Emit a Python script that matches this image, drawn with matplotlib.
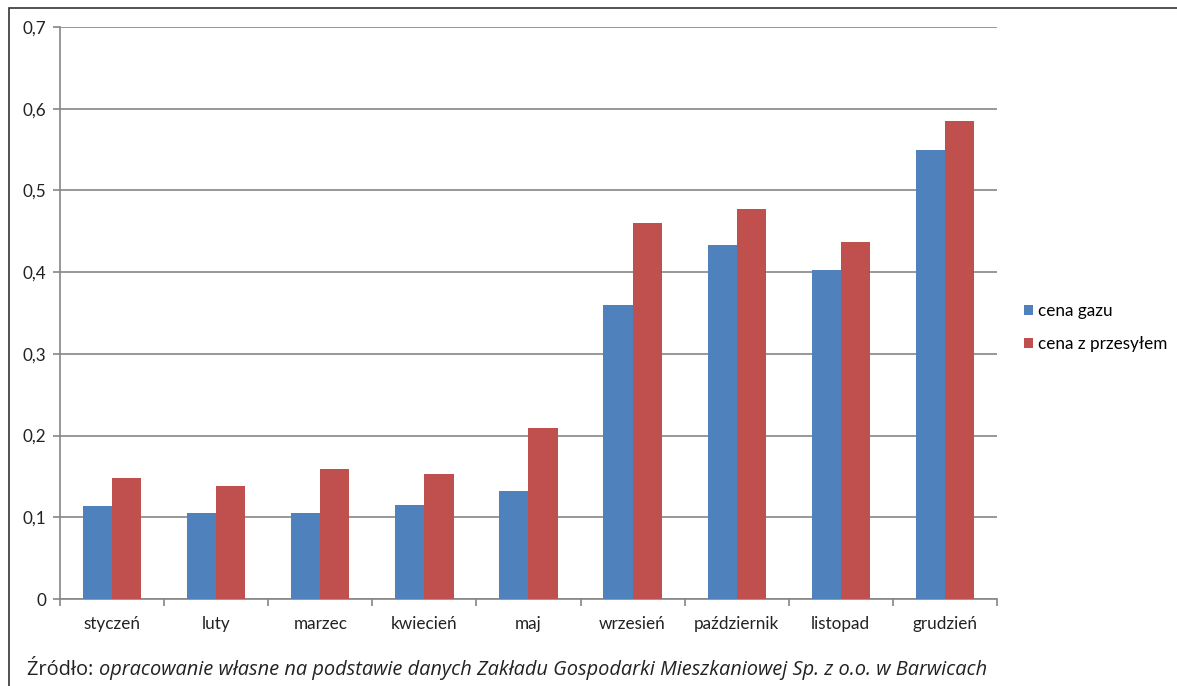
import matplotlib.pyplot as plt
import numpy as np
from matplotlib.patches import Rectangle

months = ["styczeń", "luty", "marzec", "kwiecień", "maj",
          "wrzesień", "październik", "listopad", "grudzień"]
cena_gazu = [0.114, 0.105, 0.105, 0.115, 0.132, 0.360, 0.433, 0.403, 0.550]
cena_z_przesylem = [0.148, 0.138, 0.159, 0.153, 0.209, 0.460, 0.477, 0.437, 0.585]
y_ticks = [0.0, 0.1, 0.2, 0.3, 0.4, 0.5, 0.6, 0.7]
y_labels = ["0", "0,1", "0,2", "0,3", "0,4", "0,5", "0,6", "0,7"]

plt.rcParams["font.family"] = ["Lato", "DejaVu Sans"]

fig = plt.figure(figsize=(11.77, 6.86), dpi=100)
ax = fig.add_axes([0.051, 0.1268, 0.796, 0.8338])

x = np.arange(len(months))
w = 0.28
ax.bar(x - w / 2, cena_gazu, w, color="#4F81BD", label="cena gazu", zorder=3)
ax.bar(x + w / 2, cena_z_przesylem, w, color="#C0504D", label="cena z przesyłem", zorder=3)

ax.set_xlim(-0.5, len(months) - 0.5)
ax.set_ylim(0, 0.7)
ax.set_yticks(y_ticks)
ax.set_yticklabels(y_labels, fontsize=12.3, color="#222222")
ax.set_xticks(x)
ax.set_xticklabels(months, fontsize=12.3, color="#222222")
ax.tick_params(axis="x", length=0, pad=12)
ax.set_xticks(np.arange(-0.5, len(months)), minor=True)
ax.tick_params(axis="x", which="minor", length=5, color="#868686", width=1.2)
ax.tick_params(axis="y", length=5, color="#868686", width=1.2, pad=5)

ax.grid(axis="y", color="#868686", linewidth=1.2, zorder=0)
for s in ["top", "right"]:
    ax.spines[s].set_visible(False)
for s in ["left", "bottom"]:
    ax.spines[s].set_color("#868686")
    ax.spines[s].set_linewidth(1.2)

ax.legend(loc="center left", bbox_to_anchor=(1.0215, 0.475), frameon=False,
          fontsize=12.3, handlelength=0.55, handleheight=0.55, handletextpad=0.3,
          labelspacing=1.0, borderaxespad=0.0)

# frame around the figure
fig.patches.append(Rectangle((9 / 1177, -0.05), 1.2, 1 - 8 / 686 + 0.05,
                             transform=fig.transFigure, fill=False,
                             edgecolor="#333333", linewidth=1.2))

# source caption: plain prefix, italic remainder
t1 = fig.text(27 / 1177, 1 - 670 / 686, "Źródło: ", fontsize=14.4,
              color="#222222", va="center", family=["Open Sans", "DejaVu Sans"])
fig.canvas.draw()
bb = t1.get_window_extent()
fig.text(bb.x1 / fig.bbox.width, 1 - 670 / 686,
         "opracowanie własne na podstawie danych Zakładu Gospodarki Mieszkaniowej Sp. z o.o. w Barwicach",
         fontsize=14.4, style="italic", color="#222222", va="center",
         family=["Open Sans", "DejaVu Sans"])

fig.savefig("out.png", dpi=100)
